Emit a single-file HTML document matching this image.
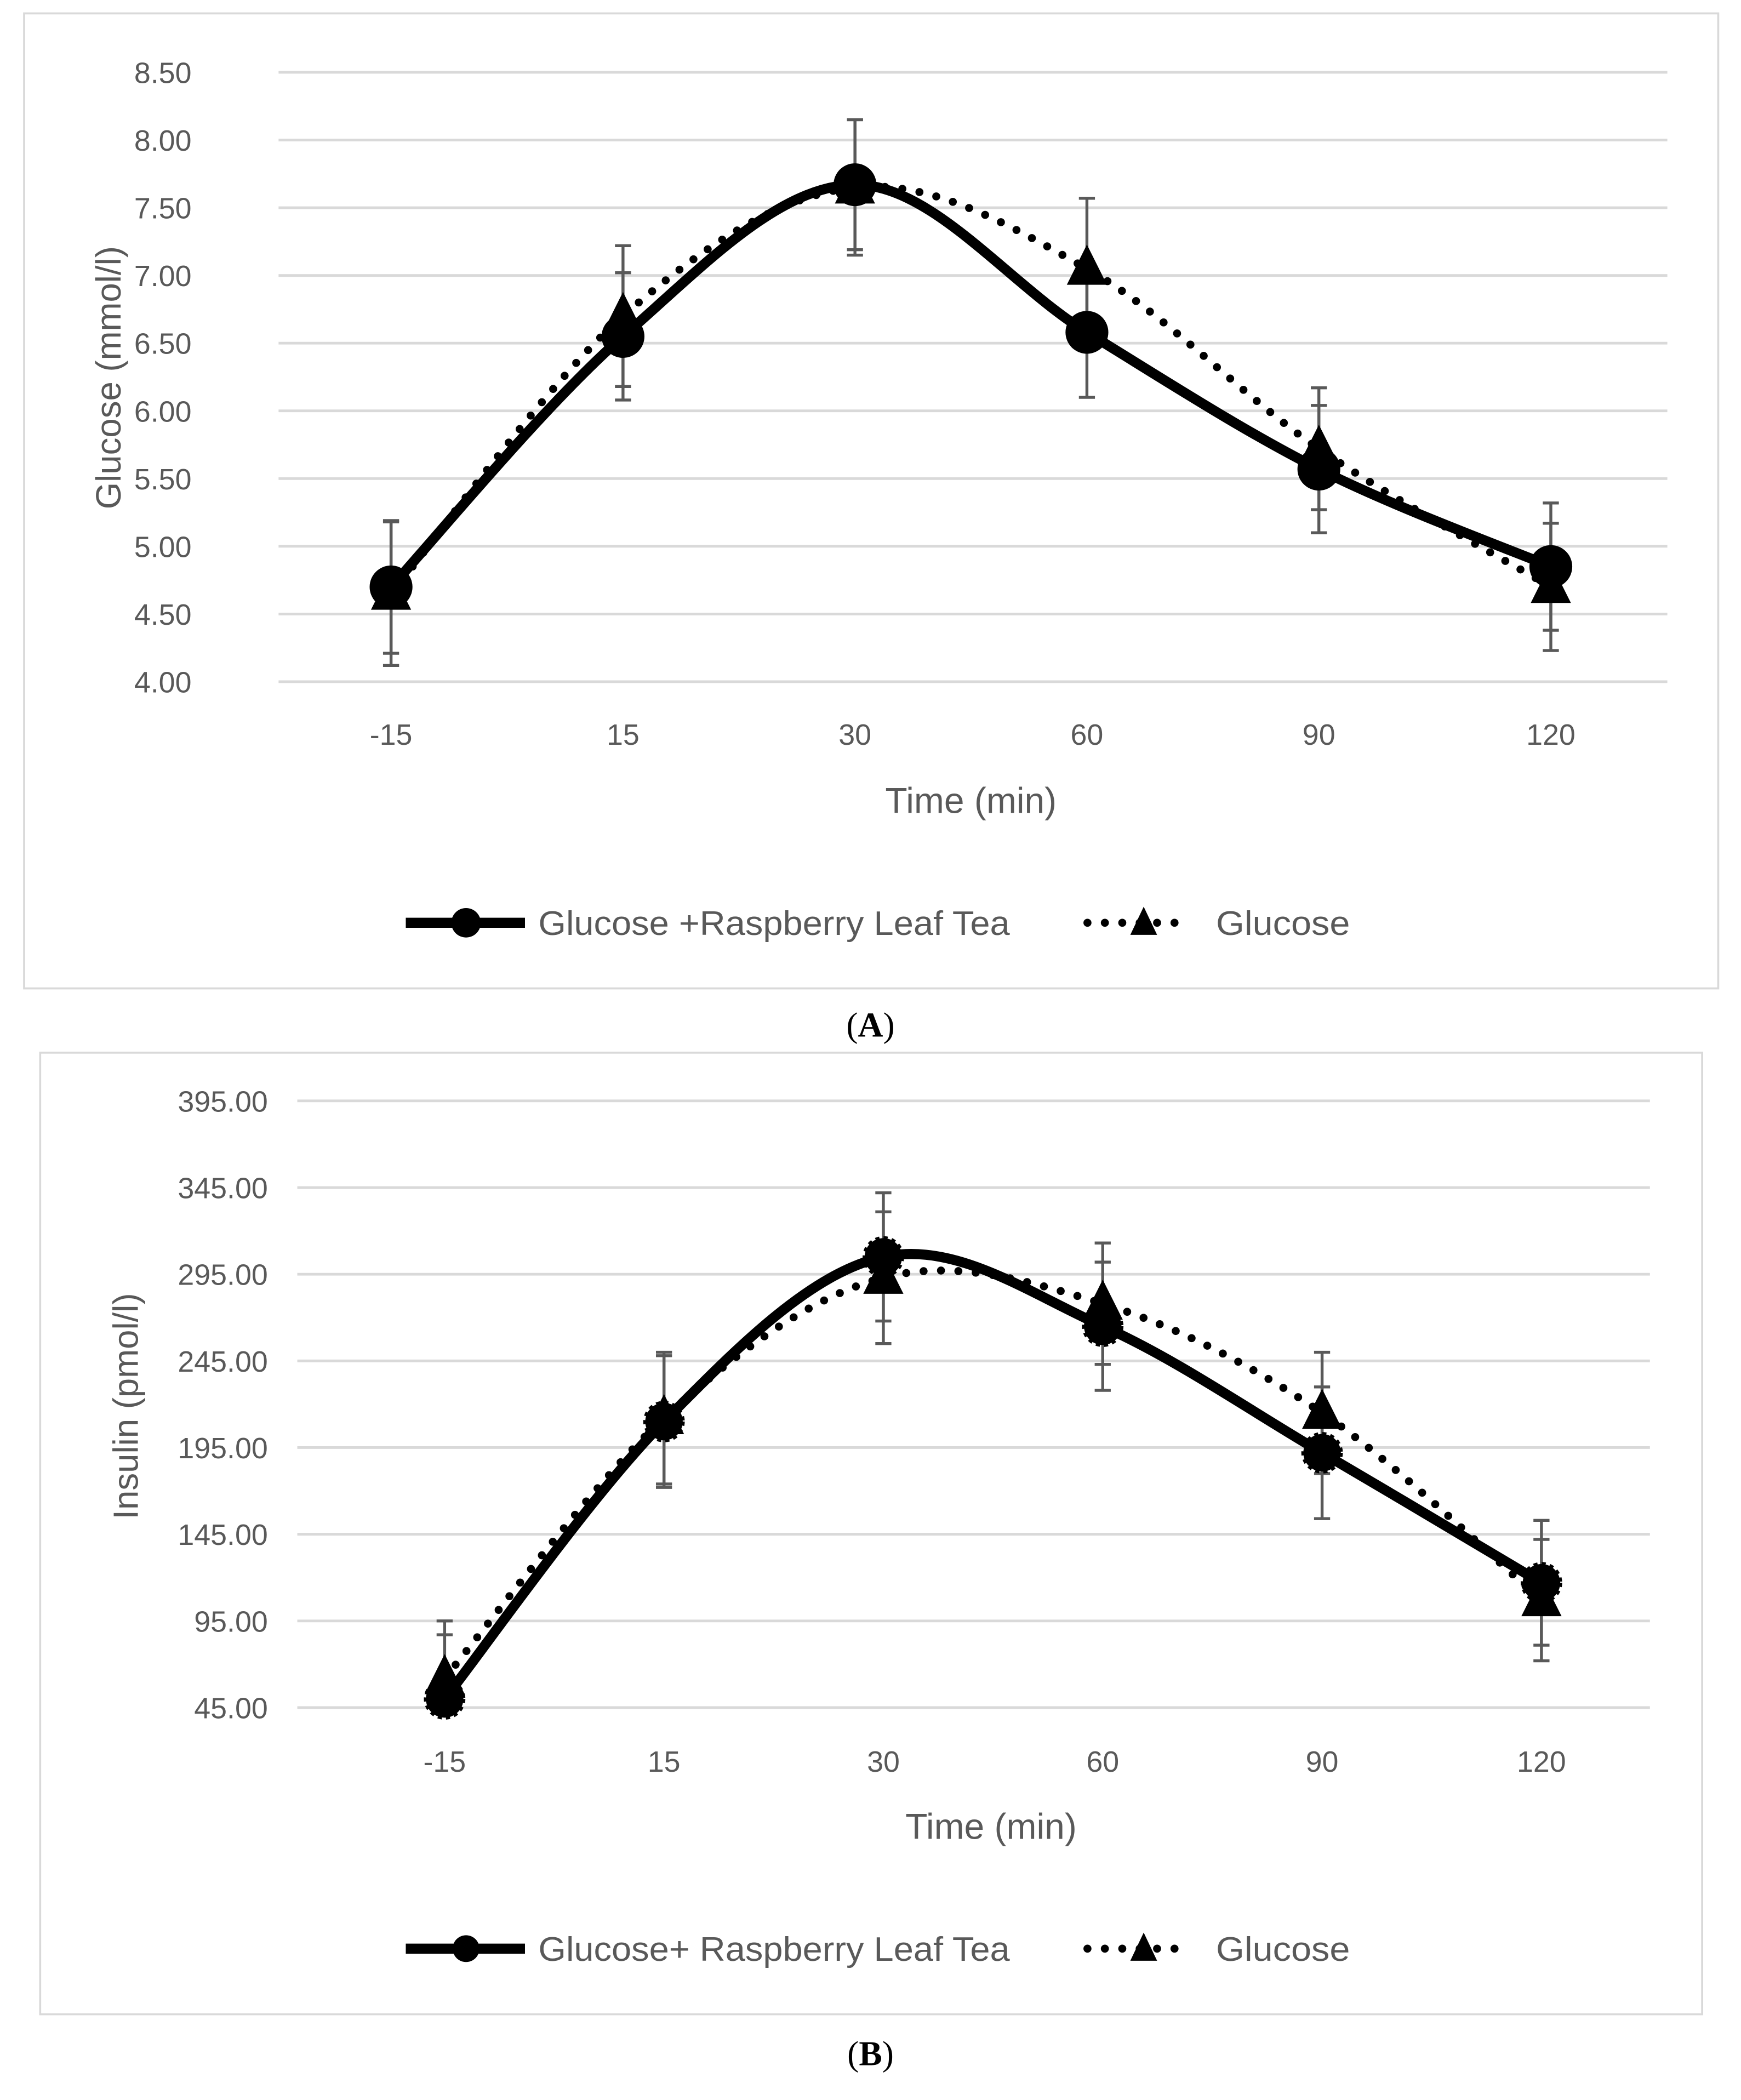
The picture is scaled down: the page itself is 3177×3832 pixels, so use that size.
<!DOCTYPE html>
<html><head><meta charset="utf-8"><style>
html,body{margin:0;padding:0;background:#fff}
svg{display:block}
text{font-family:"Liberation Sans Narrow","Liberation Sans",sans-serif;fill:#595959}
</style></head><body>
<svg id="s" width="3177" height="3832" viewBox="0 0 1300 1568" xmlns="http://www.w3.org/2000/svg"></svg>
<script>
const categories = ["-15","15","30","60","90","120"];
// Chart A – glucose
const aTicks = ["4.00","4.50","5.00","5.50","6.00","6.50","7.00","7.50","8.00","8.50"];
const aTea = [4.70, 6.55, 7.67, 6.58, 5.57, 4.85];
const aTeaErr = [0.49, 0.47, 0.48, 0.48, 0.47, 0.47];
const aGlu = [4.65, 6.70, 7.65, 7.05, 5.72, 4.70];
const aGluErr = [0.53, 0.52, 0.50, 0.52, 0.45, 0.47];
// Chart B – insulin
const bTicks = ["45.00","95.00","145.00","195.00","245.00","295.00","345.00","395.00"];
const bTea = [50, 210, 305, 265, 192, 117];
const bTeaErr = [37, 38, 37, 37, 38, 36];
const bGlu = [62, 212, 293, 278, 215, 107];
const bGluErr = [33, 38, 38, 35, 35, 35];

const NS = "http://www.w3.org/2000/svg";
const svg = document.getElementById('s');
function el(tag, attrs, parent, txt){
  const e = document.createElementNS(NS, tag);
  for (const k in attrs) e.setAttribute(k, attrs[k]);
  if (txt !== undefined) e.textContent = txt;
  (parent || svg).appendChild(e);
  return e;
}
function spline(pts){
  let d = "M" + pts[0][0] + "," + pts[0][1];
  for (let i = 0; i < pts.length - 1; i++){
    const p0 = pts[Math.max(0, i-1)], p1 = pts[i], p2 = pts[i+1], p3 = pts[Math.min(pts.length-1, i+2)];
    const c1 = [p1[0] + (p2[0]-p0[0])/6, p1[1] + (p2[1]-p0[1])/6];
    const c2 = [p2[0] - (p3[0]-p1[0])/6, p2[1] - (p3[1]-p1[1])/6];
    d += " C" + c1 + " " + c2 + " " + p2;
  }
  return d;
}
function chart(c){
  const g = el('g', {});
  
  
  const box = el('rect', {x:c.bx, y:c.by, width:c.bw, height:c.bh, fill:'#fff', stroke:'#d9d9d9', 'stroke-width':1.5}, g);
  
  
  const ymin = parseFloat(c.ticks[0]), ymax = parseFloat(c.ticks[c.ticks.length-1]);
  const Y = v => c.yBot - (v - ymin) / (ymax - ymin) * (c.yBot - c.yTop);
  const X = i => c.x0 + i * c.dx;
  c.ticks.forEach(t => {
    const y = Y(parseFloat(t));
    const gl = el('line', {x1:c.gx1, x2:c.gx2, y1:y, y2:y, stroke:'#d9d9d9', 'stroke-width':2}, g);
    
    
    const tl = el('text', {x:c.tickR, y:y+8, 'text-anchor':'end', 'font-size':22}, g, t);
    
    
  });
  categories.forEach((cat, i) => {
    const tl = el('text', {x:X(i), y:c.xLabY, 'text-anchor':'middle', 'font-size':22}, g, cat);
    
    
  });
  const xt = el('text', {x:c.xtX, y:c.xtY, 'text-anchor':'middle', 'font-size':27}, g, 'Time (min)');
  
  
  const yt = el('text', {x:0, y:0, 'text-anchor':'middle', 'font-size':26, transform:'translate('+c.ytX+','+c.ytY+') rotate(-90)', style:'font-family:"Liberation Sans",sans-serif'}, g, c.yTitle);
  
  
  [[c.tea, c.teaErr], [c.glu, c.gluErr]].forEach(([vals, errs]) => {
    vals.forEach((v, i) => {
      const x = X(i), y1 = Y(v + errs[i]);
      const lowV = v - errs[i];
      const y2 = Y(Math.max(lowV, ymin));
      let d = 'M'+x+','+y1+'V'+y2+'M'+(x-6)+','+y1+'H'+(x+6);
      if (lowV >= ymin) d += 'M'+(x-6)+','+y2+'H'+(x+6);
      const eb = el('path', {d:d, stroke:'#595959', 'stroke-width':2.2, fill:'none'}, g);
      
      
    });
  });
  const gp = c.glu.map((v, i) => [X(i), Y(v)]);
  const tp = c.tea.map((v, i) => [X(i), Y(v)]);
  const dl = el('path', {d:spline(gp), stroke:'#000', 'stroke-width':6, fill:'none', 'stroke-linecap':'round', 'stroke-dasharray':'0 13'}, g);
  
  
  const sl = el('path', {d:spline(tp), stroke:'#000', 'stroke-width':7.5, fill:'none'}, g);
  
  
  gp.forEach(p => {
    const m = el('path', {d:'M'+p[0]+','+(p[1]-18)+' L'+(p[0]+15)+','+(p[1]+12)+' L'+(p[0]-15)+','+(p[1]+12)+'Z', fill:'#000'}, g);
    
    
  });
  tp.forEach(p => {
    const m = el('circle', {cx:p[0], cy:p[1], r:c.r, fill:'#000', stroke:'#000', 'stroke-width':c.star ? 3 : 0, 'stroke-dasharray':c.star ? '3 3' : ''}, g);
    
    
  });
  const lg = el('g', {}, g);
  
  
  const ly = c.legY;
  el('line', {x1:303, x2:392, y1:ly, y2:ly, stroke:'#000', 'stroke-width':7.5}, lg);
  el('circle', {cx:348, cy:ly, r:c.star ? 10 : 11, fill:'#000'}, lg);
  const t1 = el('text', {x:402, y:ly+9, 'font-size':25.5, textLength:352, lengthAdjust:'spacingAndGlyphs'}, lg, c.teaLabel);
  
  
  el('line', {x1:812, x2:890, y1:ly, y2:ly, stroke:'#000', 'stroke-width':6, 'stroke-linecap':'round', 'stroke-dasharray':'0 13'}, lg);
  el('path', {d:'M854,'+(ly-12)+' L864,'+(ly+9)+' L844,'+(ly+9)+'Z', fill:'#000'}, lg);
  const t2 = el('text', {x:908, y:ly+9, 'font-size':25.5, textLength:100, lengthAdjust:'spacingAndGlyphs'}, lg, 'Glucose');
  
  
  const cap = el('text', {x:c.capX, y:c.capY, 'text-anchor':'middle', 'font-size':26, style:'font-family:"Liberation Serif",serif;fill:#000'}, svg);
  cap.innerHTML = '(<tspan font-weight="bold">' + c.cap + '</tspan>)';
  
  
}
chart({name:'glucose-chart', bx:18, by:10, bw:1265, bh:728, gx1:208, gx2:1245, yTop:54, yBot:509,
  ticks:aTicks, tickR:143, x0:292, dx:173.2, xLabY:556, xtX:725, xtY:607, ytX:90, ytY:282,
  yTitle:'Glucose (mmol/l)', tea:aTea, teaErr:aTeaErr, glu:aGlu, gluErr:aGluErr, r:16, star:false,
  legY:689, teaLabel:'Glucose +Raspberry Leaf Tea', capX:650, capY:774, cap:'A'});
chart({name:'insulin-chart', bx:30, by:786, bw:1241, bh:718, gx1:222, gx2:1232, yTop:822, yBot:1275,
  ticks:bTicks, tickR:200, x0:332, dx:163.8, xLabY:1323, xtX:740, xtY:1373, ytX:103, ytY:1050,
  yTitle:'Insulin (pmol/l)', tea:bTea, teaErr:bTeaErr, glu:bGlu, gluErr:bGluErr, r:14, star:true,
  legY:1455, teaLabel:'Glucose+ Raspberry Leaf Tea', capX:650, capY:1542, cap:'B'});
</script>
</body></html>
